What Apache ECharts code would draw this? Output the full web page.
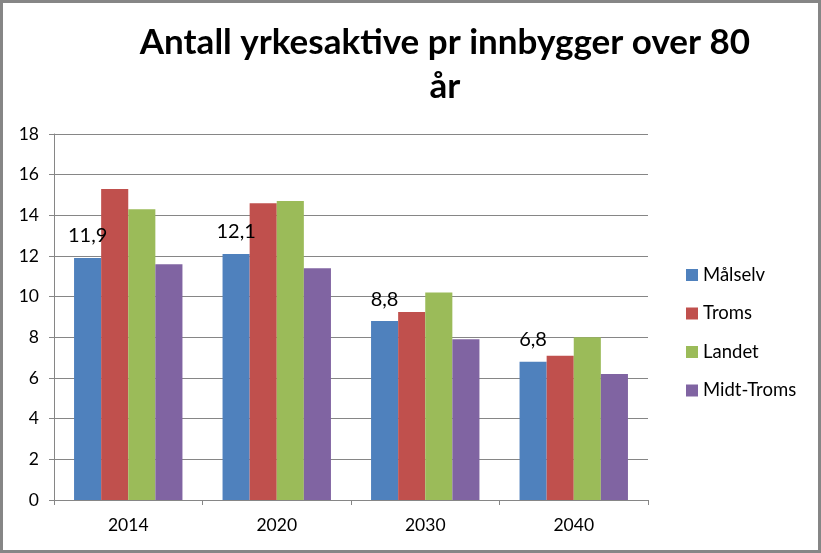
<!DOCTYPE html>
<html>
<head>
<meta charset="utf-8">
<script src="https://cdn.jsdelivr.net/npm/echarts@6/dist/echarts.min.js"></script>
<style>
  html, body { margin: 0; padding: 0; background: #fff; }
  #frame { width: 821px; height: 553px; box-sizing: border-box; border: 3px solid #868686; }
  #chart { width: 815px; height: 547px; }
</style>
</head>
<body>
<div id="frame"><div id="chart"></div></div>
<script>
var years = ['2014', '2020', '2030', '2040'];
var malselv = [11.9, 12.1, 8.8, 6.8];
var troms = [15.3, 14.6, 9.25, 7.1];
var landet = [14.3, 14.7, 10.2, 8.0];
var midtTroms = [11.6, 11.4, 7.9, 6.2];
var seriesNames = ['Målselv', 'Troms', 'Landet', 'Midt-Troms'];
var colors = ['#4F81BD', '#C0504D', '#9BBB59', '#8064A2'];

var font = 'Lato, "Open Sans", sans-serif';

function bar(name, data, color, withLabel) {
	return {
		name: name,
		type: 'bar',
		data: data,
		barGap: 0,
		barCategoryGap: '27%',
		itemStyle: { color: color },
		label: {
			show: withLabel,
			position: 'top',
			distance: 12,
			color: '#000',
			fontSize: 20,
			fontFamily: font,
			formatter: function (p) { return String(p.value).replace('.', ','); }
		}
	};
}

var option = {
	animation: false,
	color: colors,
	title: {
		text: 'Antall yrkesaktive pr innbygger over 80\når',
		left: 437,
		top: 13,
		textAlign: 'center',
		textStyle: {
			fontFamily: font,
			fontWeight: 'bold',
			fontSize: 35,
			lineHeight: 44,
			color: '#000'
		}
	},
	legend: {
		orient: 'vertical',
		left: 678,
		top: 257,
		itemWidth: 12,
		itemHeight: 12,
		itemGap: 18.5,
		icon: 'rect',
		data: seriesNames,
		textStyle: { fontFamily: font, fontSize: 18.5, color: '#000', lineHeight: 20 }
	},
	grid: { left: 51, right: 170, top: 131, bottom: 50, containLabel: false },
	xAxis: {
		type: 'category',
		data: years,
		axisLine: { lineStyle: { color: '#868686' } },
		axisTick: { show: true, length: 5, lineStyle: { color: '#868686' } },
		axisLabel: { color: '#000', fontSize: 17.5, fontFamily: font, margin: 16 }
	},
	yAxis: {
		type: 'value',
		min: 0,
		max: 18,
		interval: 2,
		axisLine: { show: true, lineStyle: { color: '#868686' } },
		axisTick: { show: true, length: 5, lineStyle: { color: '#868686' } },
		axisLabel: { color: '#000', fontSize: 17.5, fontFamily: font, margin: 15 },
		splitLine: { lineStyle: { color: '#868686' } }
	},
	series: [
		bar(seriesNames[0], malselv, colors[0], true),
		bar(seriesNames[1], troms, colors[1], false),
		bar(seriesNames[2], landet, colors[2], false),
		bar(seriesNames[3], midtTroms, colors[3], false)
	]
};

var mychart = echarts.init(document.getElementById('chart'));
mychart.setOption(option);
</script>
</body>
</html>
